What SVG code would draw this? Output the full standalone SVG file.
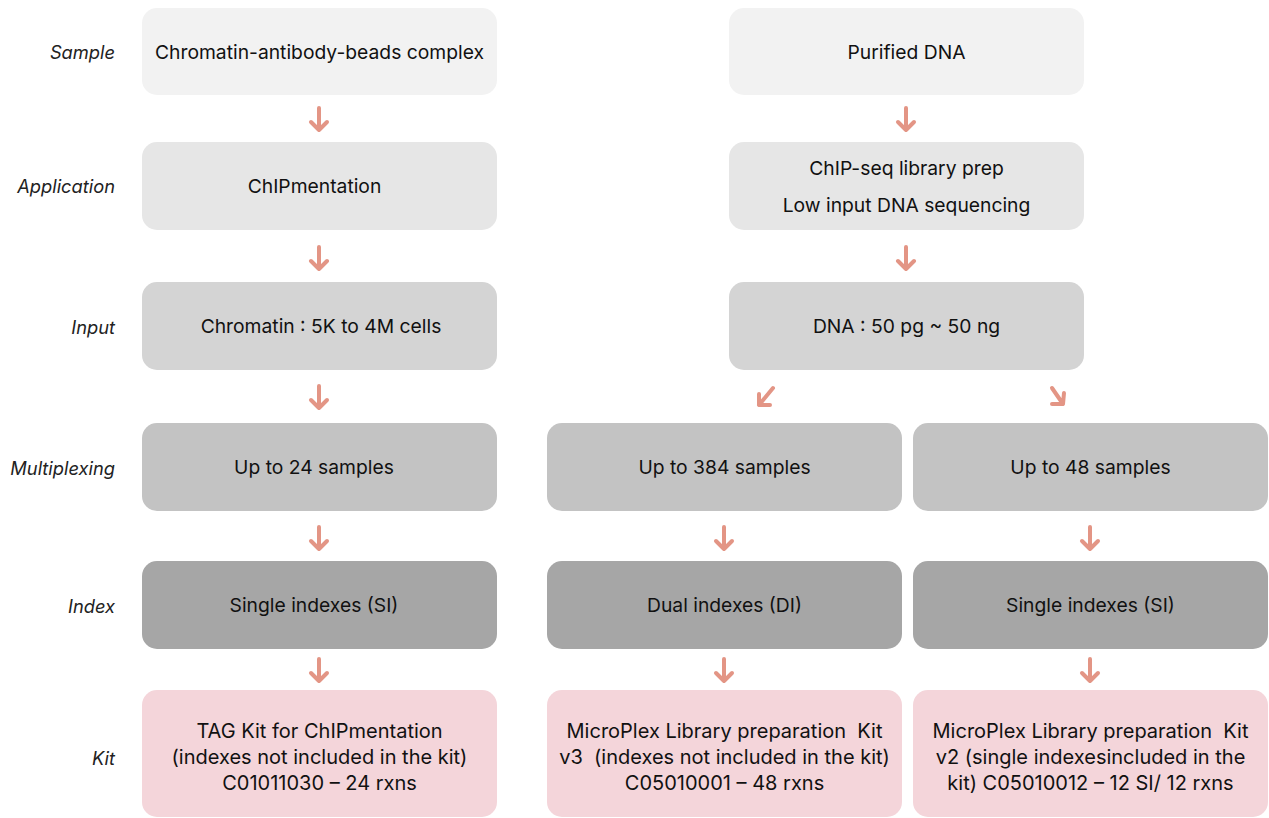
<svg xmlns="http://www.w3.org/2000/svg" width="1269" height="818" viewBox="0 0 1269 818">
<style>
.lbl{font-family:Inter,"Liberation Sans",sans-serif;font-style:italic;font-size:18.3px;fill:#222;text-anchor:end;dominant-baseline:central}
.t{font-family:Inter,"Liberation Sans",sans-serif;font-size:19.3px;fill:#111;text-anchor:middle;dominant-baseline:central}
.k{font-family:Inter,"Liberation Sans",sans-serif;font-size:20px;fill:#111;text-anchor:middle;dominant-baseline:central;white-space:pre}
.r1{fill:#f2f2f2}.r2{fill:#e6e6e6}.r3{fill:#d4d4d4}.r4{fill:#c3c3c3}.r5{fill:#a6a6a6}.r6{fill:#f4d5da}
.arr{fill:none;stroke:#e39585;stroke-width:4;stroke-linecap:round;stroke-linejoin:round}
</style>
<rect width="1269" height="818" fill="#fff"/>
<g id="labels">
<text class="lbl" x="115" y="52">Sample</text>
<text class="lbl" x="115" y="186">Application</text>
<text class="lbl" x="115" y="327">Input</text>
<text class="lbl" x="115" y="468">Multiplexing</text>
<text class="lbl" x="115" y="606">Index</text>
<text class="lbl" x="115" y="758">Kit</text>
</g>
<g id="n-sample-left"><rect class="r1" x="142" y="8" width="355" height="87" rx="15"/><text class="t" x="319.5" y="52">Chromatin-antibody-beads complex</text></g>
<g id="n-sample-right"><rect class="r1" x="729" y="8" width="355" height="87" rx="15"/><text class="t" x="906.5" y="52">Purified DNA</text></g>
<g id="n-app-left"><rect class="r2" x="142" y="142" width="355" height="88" rx="15"/><text class="t" x="314.5" y="186">ChIPmentation</text></g>
<g id="n-app-right"><rect class="r2" x="729" y="142" width="355" height="88" rx="15"/><text class="t" x="906.5" y="168">ChIP-seq library prep</text><text class="t" x="906.5" y="205">Low input DNA sequencing</text></g>
<g id="n-input-left"><rect class="r3" x="142" y="282" width="355" height="88" rx="15"/><text class="t" x="321" y="326">Chromatin : 5K to 4M cells</text></g>
<g id="n-input-right"><rect class="r3" x="729" y="282" width="355" height="88" rx="15"/><text class="t" x="906.5" y="326">DNA : 50 pg ~ 50 ng</text></g>
<g id="n-mult-left"><rect class="r4" x="142" y="423" width="355" height="88" rx="15"/><text class="t" x="314" y="467">Up to 24 samples</text></g>
<g id="n-mult-mid"><rect class="r4" x="547" y="423" width="355" height="88" rx="15"/><text class="t" x="724.5" y="467">Up to 384 samples</text></g>
<g id="n-mult-right"><rect class="r4" x="913" y="423" width="355" height="88" rx="15"/><text class="t" x="1090.5" y="467">Up to 48 samples</text></g>
<g id="n-index-left"><rect class="r5" x="142" y="561" width="355" height="88" rx="15"/><text class="t" x="314" y="605">Single indexes (SI)</text></g>
<g id="n-index-mid"><rect class="r5" x="547" y="561" width="355" height="88" rx="15"/><text class="t" x="724.5" y="605">Dual indexes (DI)</text></g>
<g id="n-index-right"><rect class="r5" x="913" y="561" width="355" height="88" rx="15"/><text class="t" x="1090.5" y="605">Single indexes (SI)</text></g>
<g id="n-kit-left"><rect class="r6" x="142" y="690" width="355" height="127" rx="15"/><text class="k" x="319.5" y="731">TAG Kit for ChIPmentation</text><text class="k" x="319.5" y="757">(indexes not included in the kit)</text><text class="k" x="319.5" y="783">C01011030 – 24 rxns</text></g>
<g id="n-kit-mid"><rect class="r6" x="547" y="690" width="355" height="127" rx="15"/><text class="k" x="724.5" y="731">MicroPlex Library preparation  Kit</text><text class="k" x="724.5" y="757">v3  (indexes not included in the kit)</text><text class="k" x="724.5" y="783">C05010001 – 48 rxns</text></g>
<g id="n-kit-right"><rect class="r6" x="913" y="690" width="355" height="127" rx="15"/><text class="k" x="1090.5" y="731">MicroPlex Library preparation  Kit</text><text class="k" x="1090.5" y="757">v2 (single indexesincluded in the</text><text class="k" x="1090.5" y="783">kit) C05010012 – 12 SI/ 12 rxns</text></g>
<g id="connectors">
<path class="arr" d="M319 108V130M311 122L319 130L327 122"/>
<path class="arr" d="M906 108V130M898 122L906 130L914 122"/>
<path class="arr" d="M319 247V269M311 261L319 269L327 261"/>
<path class="arr" d="M906 247V269M898 261L906 269L914 261"/>
<path class="arr" d="M319 386V408M311 400L319 408L327 400"/>
<path class="arr" d="M773 388L759 405M759 394L759 405L770 405"/>
<path class="arr" d="M1052 388L1063 404M1052 404L1063 404L1064 393"/>
<path class="arr" d="M319 527V549M311 541L319 549L327 541"/>
<path class="arr" d="M724 527V549M716 541L724 549L732 541"/>
<path class="arr" d="M1090 527V549M1082 541L1090 549L1098 541"/>
<path class="arr" d="M319 659V681M311 673L319 681L327 673"/>
<path class="arr" d="M724 659V681M716 673L724 681L732 673"/>
<path class="arr" d="M1090 659V681M1082 673L1090 681L1098 673"/>
</g>
</svg>
